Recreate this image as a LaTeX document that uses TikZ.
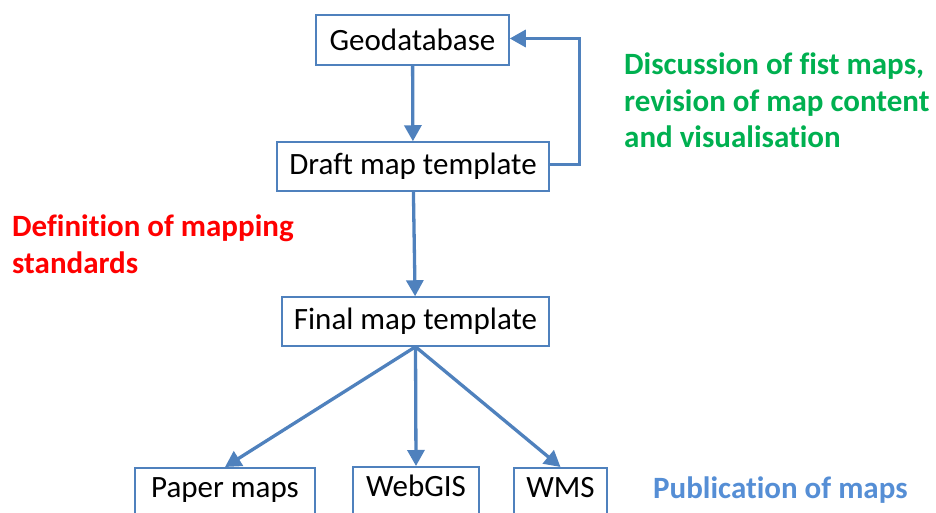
\documentclass[tikz,border=0pt]{standalone}
\usepackage{fontspec}
\setmainfont[Ligatures=NoCommon]{Carlito}
\usetikzlibrary{arrows.meta}
\definecolor{arrowblue}{RGB}{79,129,189}
\definecolor{boxblue}{RGB}{79,129,189}
\definecolor{lblgreen}{RGB}{0,176,80}
\definecolor{lblred}{RGB}{255,0,0}
\definecolor{lblblue}{RGB}{85,142,213}
\tikzset{
  box/.style={draw=boxblue, line width=1.5pt, fill=white, inner sep=0pt, font=\fontsize{31}{36}\selectfont},
  lowbox/.style={box, anchor=north, inner ysep=0pt, text height=30pt, text depth=45pt},
  flow/.style={draw=arrowblue, line width=3.3pt, -{Triangle[length=16pt,width=17pt]}},
  lbl/.style={font=\fontsize{31}{36.5}\selectfont\bfseries, align=left, inner sep=0pt}
}
\begin{document}
\begin{tikzpicture}[x=1pt,y=-1pt]
\useasboundingbox (0,0) rectangle (936,513);
\clip (0,0) rectangle (936,513);
\node[box, minimum width=193pt, minimum height=50pt] (geo) at (412.5,40) {Geodatabase};
\node[box, minimum width=272pt, minimum height=49pt] (draft) at (413,166.5) {Draft map template};
\node[box, minimum width=267pt, minimum height=49pt] (final) at (415.5,321.5) {Final map template};
\node[lowbox, minimum width=180pt] (paper) at (225,467) {Paper maps};
\node[lowbox, minimum width=126pt] (webgis) at (416,466) {WebGIS};
\node[lowbox, minimum width=93pt] (wms) at (560.5,467) {WMS};
\coordinate (c1) at (579.5,164.5);
\coordinate (c2) at (579.5,38.5);
\draw[flow] (geo) -- (draft);
\draw[flow] (draft) -- (final);
\draw[flow] (draft.east |- c1) -- (c1) -- (c2) -- (geo.east |- c2);
\draw[flow] (final.south) -- (paper.north);
\draw[flow] (final.south) -- (webgis.north);
\draw[flow] (final.south) -- (wms.north);
\node[lbl, text=lblred, anchor=base west] (def) at (12,273) {Definition of mapping\\standards};
\node[lbl, text=lblgreen, anchor=base west] (disc) at (624,148) {Discussion of fist maps,\\revision of map content\\and visualisation};
\node[lbl, text=lblblue, anchor=base west] (pub) at (653,498) {Publication of maps};
\end{tikzpicture}
\end{document}
